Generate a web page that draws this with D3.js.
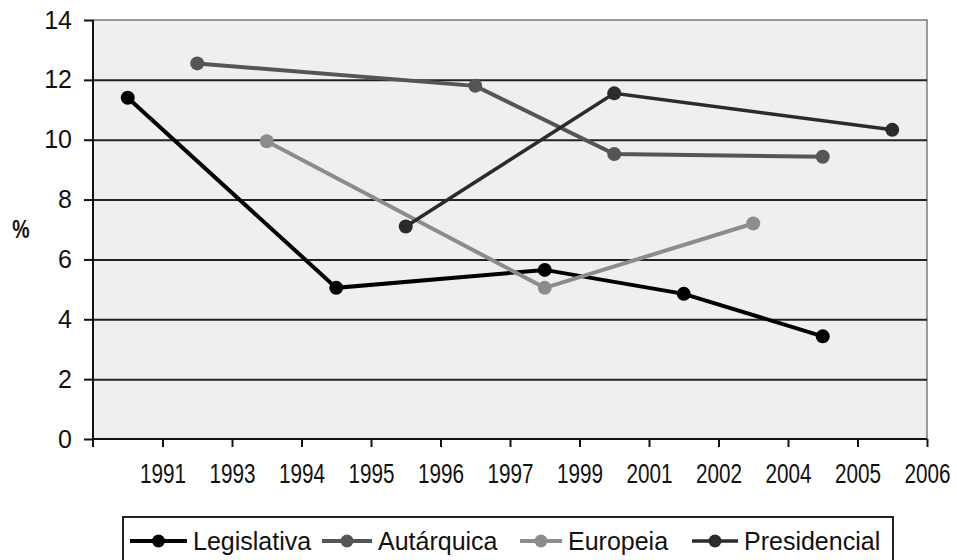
<!DOCTYPE html>
<html>
<head>
<meta charset="utf-8">
<script src="https://cdn.jsdelivr.net/npm/d3@7"></script>
<style>
  body { margin: 0; background: #fff; }
  svg { display: block; }
  text { font-family: "Liberation Sans", Arial, sans-serif; fill: #111; }
</style>
</head>
<body>
<div id="chart"></div>
<script>
// election years (category axis)
const years = ["1991", "1993", "1994", "1995", "1996", "1997", "1999", "2001", "2002", "2004", "2005", "2006"];
const yTicks = [0, 2, 4, 6, 8, 10, 12, 14];

// values in %, null = no election that year
const legislativa  = [11.4, null, null, 5.05, null, null, 5.65, null, 4.85, null, 3.43, null];
const autarquica   = [null, 12.55, null, null, null, 11.8, null, 9.52, null, null, 9.43, null];
const europeia     = [null, null, 9.95, null, null, null, 5.05, null, null, 7.2, null, null];
const presidencial = [null, null, null, null, 7.1, null, null, 11.55, null, null, null, 10.33];

const seriesNames  = ["Legislativa", "Autárquica", "Europeia", "Presidencial"];
const seriesValues = [legislativa, autarquica, europeia, presidencial];
const seriesColors = ["#000000", "#555555", "#8c8c8c", "#2b2b2b"];
const seriesWidths = [4, 4, 4, 3.5];

const width = 957, height = 560;
const margin = {top: 20, right: 30, bottom: 121, left: 93};
const plotW = width - margin.left - margin.right;
const plotH = height - margin.top - margin.bottom;

const svg = d3.select("#chart").append("svg")
    .attr("width", width)
    .attr("height", height);

const x = d3.scaleBand().domain(years).range([margin.left, margin.left + plotW]).padding(0);
// labels sit on the right edge of each category slot
const xLab = d3.scalePoint().domain(years)
    .range([margin.left + x.bandwidth(), margin.left + plotW]).padding(0);
const y = d3.scaleLinear().domain([0, 14]).range([margin.top + plotH, margin.top]);

// plot background
svg.append("rect")
    .attr("x", margin.left).attr("y", margin.top)
    .attr("width", plotW).attr("height", plotH)
    .attr("fill", "#efefef")
    .attr("stroke", "#7a7a7a").attr("stroke-width", 1.5);

// gridlines
svg.append("g")
    .attr("transform", `translate(${margin.left},0)`)
    .call(d3.axisLeft(y).tickValues(yTicks.slice(1, -1)).tickSize(-plotW).tickFormat(""))
    .call(g => g.select(".domain").remove())
    .call(g => g.selectAll("line").attr("stroke", "#222").attr("stroke-width", 2));

// y axis
svg.append("g")
    .attr("transform", `translate(${margin.left},0)`)
    .call(d3.axisLeft(y).tickValues(yTicks).tickSize(9).tickSizeOuter(0).tickPadding(12))
    .call(g => g.select(".domain").remove())
    .call(g => g.selectAll("line").attr("stroke", "#111").attr("stroke-width", 2))
    .call(g => g.selectAll("text").style("font-size", "25px").attr("fill", "#222"));

// x axis (narrow-looking labels: squeeze horizontally)
svg.append("g")
    .attr("transform", `translate(0,${margin.top + plotH})`)
    .call(d3.axisBottom(xLab).tickSize(8).tickSizeOuter(0).tickPadding(16))
    .call(g => g.select(".domain").remove())
    .call(g => g.selectAll("line").attr("stroke", "#111").attr("stroke-width", 2))
    .call(g => g.selectAll("text").style("font-size", "28px").attr("fill", "#222")
        .attr("transform", "scale(0.74,1)"));

// axis lines
svg.append("line")
    .attr("x1", margin.left).attr("x2", margin.left + plotW)
    .attr("y1", y(0)).attr("y2", y(0))
    .attr("stroke", "#111").attr("stroke-width", 2);
svg.append("line")
    .attr("x1", margin.left).attr("x2", margin.left)
    .attr("y1", margin.top).attr("y2", y(0) + 8)
    .attr("stroke", "#111").attr("stroke-width", 2);

// y title
svg.append("text")
    .attr("x", 21).attr("y", 238)
    .attr("text-anchor", "middle")
    .style("font-size", "26px").style("font-weight", "bold")
    .attr("fill", "#333")
    .attr("transform", "translate(21,0) scale(0.75,1) translate(-21,0)")
    .text("%");

// series
const line = d3.line()
    .defined(d => d.v != null)
    .x(d => x(d.year) + x.bandwidth() / 2)
    .y(d => y(d.v));

seriesValues.forEach((vals, i) => {
  const pts = years.map((year, j) => ({year, v: vals[j]})).filter(d => d.v != null);
  const g = svg.append("g");
  g.append("path")
      .datum(pts)
      .attr("d", line)
      .attr("fill", "none")
      .attr("stroke", seriesColors[i])
      .attr("stroke-width", seriesWidths[i]);
  g.selectAll("circle")
      .data(pts)
      .join("circle")
      .attr("cx", d => x(d.year) + x.bandwidth() / 2)
      .attr("cy", d => y(d.v))
      .attr("r", 7)
      .attr("fill", seriesColors[i]);
});

// legend
const legend = svg.append("g");
legend.append("rect")
    .attr("x", 123).attr("y", 517)
    .attr("width", 770).attr("height", 60)
    .attr("fill", "#fff")
    .attr("stroke", "#222").attr("stroke-width", 2);

const legendX = [130, 322, 520, 692];
const symLen = [57, 50, 42, 46];
seriesNames.forEach((name, i) => {
  const item = legend.append("g").attr("transform", `translate(${legendX[i]},541)`);
  item.append("line")
      .attr("x1", 0).attr("x2", symLen[i])
      .attr("stroke", seriesColors[i]).attr("stroke-width", seriesWidths[i]);
  item.append("circle")
      .attr("cx", symLen[i] / 2).attr("r", 6.5)
      .attr("fill", seriesColors[i]);
  item.append("text")
      .attr("x", symLen[i] + 6).attr("y", 9)
      .style("font-size", "25px")
      .attr("fill", "#222")
      .text(name);
});
</script>
</body>
</html>
